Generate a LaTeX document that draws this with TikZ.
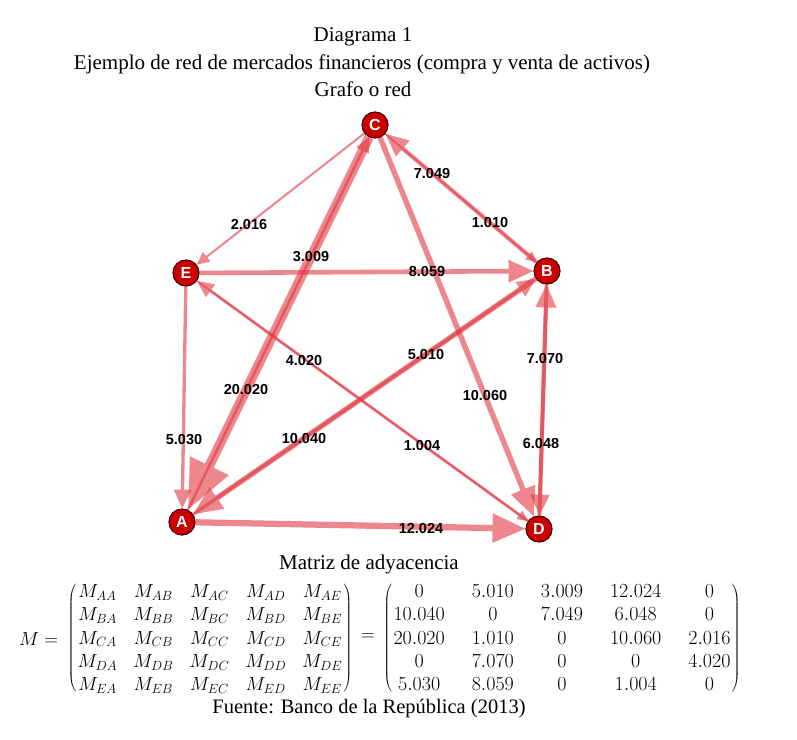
\documentclass[tikz,border=0pt]{standalone}
\usepackage{fix-cm}
\usepackage{amsmath}
\usepackage{fontspec}
\setmainfont{Liberation Serif}
\newfontfamily\lblfont{Liberation Sans}
\usetikzlibrary{arrows.meta,matrix,calc}
\definecolor{edgecol}{RGB}{225,55,65}
\definecolor{nodefill}{RGB}{200,0,0}
\definecolor{nodedraw}{RGB}{70,0,0}
\tikzset{
  vert/.style={circle, fill=nodefill, draw=nodedraw, line width=0.9pt, minimum size=26pt, inner sep=0pt,
    text=white, font=\lblfont\bfseries\fontsize{16}{16}\selectfont},
  wedge/.style={draw=edgecol, line width={0.42pt*#1+1.2pt},
    -{Triangle[length=3pt 4.8, width=4pt 3.8]}},
  wlbl/.style={font=\lblfont\bfseries\fontsize{14.5}{14.5}\selectfont, inner sep=0pt},
  ttl/.style={font=\fontsize{21}{25}\selectfont, inner sep=0pt, anchor=base},
  mtx/.style={matrix of math nodes, inner sep=0pt, row sep=6.3pt,
    left delimiter=(, right delimiter=),
    every left delimiter/.style={xshift=-1.5pt},
    every right delimiter/.style={xshift=1.5pt},
    nodes={inner sep=0pt, text height=14pt, text depth=3pt, anchor=center}},
}
\newcommand\edgeline[3]{%
  \begin{scope}[transparency group, opacity=0.6]
    \draw[wedge=#3] (#1) -- (#2);
  \end{scope}}
\begin{document}
\begin{tikzpicture}[x=1pt,y=-1pt]
\fill[white] (0,0) rectangle (797,739);
\useasboundingbox (0,0) rectangle (797,739);
% titles
\node[ttl] (t1) at (363,41) {Diagrama 1};
\node[ttl] (t2) at (362,69) {Ejemplo de red de mercados financieros (compra y venta de activos)};
\node[ttl] (t3) at (363,96) {Grafo o red};
% vertices
\node[vert] (C) at (375,125) {C};
\node[vert] (E) at (186,273) {E};
\node[vert] (B) at (547,271) {B};
\node[vert] (A) at (182,522) {A};
\node[vert] (D) at (539,529) {D};
% edges
\edgeline{A}{B}{5.010}
\edgeline{A}{C}{3.009}
\edgeline{A}{D}{12.024}
\edgeline{B}{A}{10.040}
\edgeline{B}{C}{7.049}
\edgeline{B}{D}{6.048}
\edgeline{C}{A}{20.020}
\edgeline{C}{B}{1.010}
\edgeline{C}{D}{10.060}
\edgeline{C}{E}{2.016}
\edgeline{D}{B}{7.070}
\edgeline{D}{E}{4.020}
\edgeline{E}{A}{5.030}
\edgeline{E}{B}{8.059}
\edgeline{E}{D}{1.004}
% redraw vertices on top
\node[vert] at (C) {C};
\node[vert] at (E) {E};
\node[vert] at (B) {B};
\node[vert] at (A) {A};
\node[vert] at (D) {D};
% edge labels
\node[wlbl] (lBC) at (432,174) {7.049};
\node[wlbl] (lCB) at (490,223) {1.010};
\node[wlbl] (lCE) at (249,225) {2.016};
\node[wlbl] (lAC) at (311,257) {3.009};
\node[wlbl] (lEB) at (427,272) {8.059};
\node[wlbl] (lAB) at (426,355) {5.010};
\node[wlbl] (lDB) at (545,359) {7.070};
\node[wlbl] (lDE) at (304,361) {4.020};
\node[wlbl] (lCA) at (246,390) {20.020};
\node[wlbl] (lCD) at (485,396) {10.060};
\node[wlbl] (lEA) at (184,440) {5.030};
\node[wlbl] (lBA) at (304,439) {10.040};
\node[wlbl] (lED) at (422,446) {1.004};
\node[wlbl] (lBD) at (541,444) {6.048};
\node[wlbl] (lAD) at (421,528) {12.024};
% adjacency matrix
\node[ttl] (t4) at (369,569) {Matriz de adyacencia};
\node[ttl, font=\fontsize{19}{22}\selectfont, anchor=base west] (Mlbl) at (19,645) {$M =$};
\matrix[mtx, font=\fontsize{19}{22}\selectfont, column sep=16pt] (L) at (210,638.5) {
M_{AA} & M_{AB} & M_{AC} & M_{AD} & M_{AE} \\
M_{BA} & M_{BB} & M_{BC} & M_{BD} & M_{BE} \\
M_{CA} & M_{CB} & M_{CC} & M_{CD} & M_{CE} \\
M_{DA} & M_{DB} & M_{DC} & M_{DD} & M_{DE} \\
M_{EA} & M_{EB} & M_{EC} & M_{ED} & M_{EE} \\
};
\node[font=\fontsize{19}{22}\selectfont, inner sep=0pt] (eq) at (368,637) {$=$};
\matrix[mtx, font=\fontsize{20}{22}\selectfont, column sep=27pt] (R) at (562,638.5) {
0 & 5.010 & 3.009 & 12.024 & 0 \\
10.040 & 0 & 7.049 & 6.048 & 0 \\
20.020 & 1.010 & 0 & 10.060 & 2.016 \\
0 & 7.070 & 0 & 0 & 4.020 \\
5.030 & 8.059 & 0 & 1.004 & 0 \\
};
\node[ttl, font=\fontsize{20.5}{24}\selectfont] (src) at (369,713) {Fuente: Banco de la República (2013)};
\end{tikzpicture}
\end{document}
